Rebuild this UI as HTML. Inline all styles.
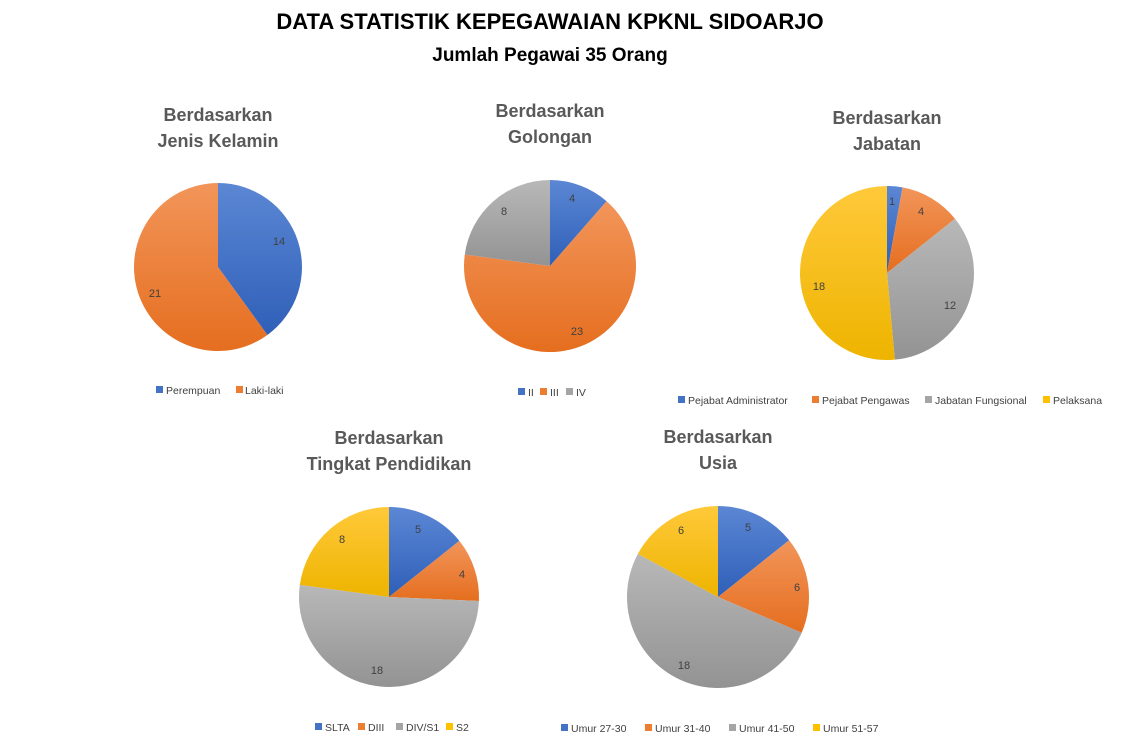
<!DOCTYPE html>
<html><head><meta charset="utf-8"><style>
html,body{margin:0;padding:0;background:#fff;width:1126px;height:737px;overflow:hidden}
svg{display:block}
.t{font-family:"Liberation Sans",Arial,sans-serif;font-weight:bold;fill:#000}
.ct{font-family:"Liberation Sans",sans-serif;font-weight:bold;fill:#595959;font-size:18px;text-anchor:middle}
.l{font-family:"Liberation Sans",sans-serif;font-size:11px;fill:#404040;text-anchor:middle}
.g{font-family:"Liberation Sans",sans-serif;font-size:10.5px;fill:#404040}
</style></head><body>
<svg id="s" width="1126" height="737" viewBox="0 0 1126 737" xmlns="http://www.w3.org/2000/svg">
<defs>
<linearGradient id="c0" x1="0" y1="0" x2="0" y2="1"><stop offset="0" stop-color="#5B87D4"/><stop offset="1" stop-color="#2F5FB8"/></linearGradient>
<linearGradient id="c1" x1="0" y1="0" x2="0" y2="1"><stop offset="0" stop-color="#F2955A"/><stop offset="1" stop-color="#E56E1F"/></linearGradient>
<linearGradient id="c2" x1="0" y1="0" x2="0" y2="1"><stop offset="0" stop-color="#B8B8B8"/><stop offset="1" stop-color="#939393"/></linearGradient>
<linearGradient id="c3" x1="0" y1="0" x2="0" y2="1"><stop offset="0" stop-color="#FFC93A"/><stop offset="1" stop-color="#EEB400"/></linearGradient>
</defs>
<text class="t" x="550" y="29" font-size="22" text-anchor="middle">DATA STATISTIK KEPEGAWAIAN KPKNL SIDOARJO</text>
<text class="t" x="550" y="61" font-size="19" text-anchor="middle">Jumlah Pegawai 35 Orang</text>
<g id="pies"></g>

<text class="ct" x="218" y="121">Berdasarkan</text><text class="ct" x="218" y="147">Jenis Kelamin</text>
<text class="ct" x="550" y="117">Berdasarkan</text><text class="ct" x="550" y="143">Golongan</text>
<text class="ct" x="887" y="124">Berdasarkan</text><text class="ct" x="887" y="150">Jabatan</text>
<text class="ct" x="389" y="444">Berdasarkan</text><text class="ct" x="389" y="470">Tingkat Pendidikan</text>
<text class="ct" x="718" y="443">Berdasarkan</text><text class="ct" x="718" y="469">Usia</text>

<text class="l" x="279" y="245">14</text><text class="l" x="155" y="297">21</text>
<text class="l" x="572" y="202">4</text><text class="l" x="577" y="335">23</text><text class="l" x="504" y="215">8</text>
<text class="l" x="892" y="205">1</text><text class="l" x="921" y="215">4</text><text class="l" x="950" y="309">12</text><text class="l" x="819" y="290">18</text>
<text class="l" x="418" y="533">5</text><text class="l" x="462" y="578">4</text><text class="l" x="377" y="674">18</text><text class="l" x="342" y="543">8</text>
<text class="l" x="748" y="531">5</text><text class="l" x="797" y="591">6</text><text class="l" x="684" y="669">18</text><text class="l" x="681" y="534">6</text>

<g>
<rect x="156" y="386" width="7" height="7" fill="#4472C4"/><text class="g" x="166" y="394">Perempuan</text>
<rect x="236" y="386" width="7" height="7" fill="#ED7D31"/><text class="g" x="245" y="394">Laki-laki</text>
<rect x="518" y="388" width="7" height="7" fill="#4472C4"/><text class="g" x="528" y="396">II</text>
<rect x="540" y="388" width="7" height="7" fill="#ED7D31"/><text class="g" x="550" y="396">III</text>
<rect x="566" y="388" width="7" height="7" fill="#A5A5A5"/><text class="g" x="576" y="396">IV</text>
<rect x="678" y="396" width="7" height="7" fill="#4472C4"/><text class="g" x="688" y="404">Pejabat Administrator</text>
<rect x="812" y="396" width="7" height="7" fill="#ED7D31"/><text class="g" x="822" y="404">Pejabat Pengawas</text>
<rect x="925" y="396" width="7" height="7" fill="#A5A5A5"/><text class="g" x="935" y="404">Jabatan Fungsional</text>
<rect x="1043" y="396" width="7" height="7" fill="#FFC000"/><text class="g" x="1053" y="404">Pelaksana</text>
<rect x="315" y="723" width="7" height="7" fill="#4472C4"/><text class="g" x="325" y="731">SLTA</text>
<rect x="358" y="723" width="7" height="7" fill="#ED7D31"/><text class="g" x="368" y="731">DIII</text>
<rect x="396" y="723" width="7" height="7" fill="#A5A5A5"/><text class="g" x="406" y="731">DIV/S1</text>
<rect x="446" y="723" width="7" height="7" fill="#FFC000"/><text class="g" x="456" y="731">S2</text>
<rect x="561" y="724" width="7" height="7" fill="#4472C4"/><text class="g" x="571" y="732">Umur 27-30</text>
<rect x="645" y="724" width="7" height="7" fill="#ED7D31"/><text class="g" x="655" y="732">Umur 31-40</text>
<rect x="729" y="724" width="7" height="7" fill="#A5A5A5"/><text class="g" x="739" y="732">Umur 41-50</text>
<rect x="813" y="724" width="7" height="7" fill="#FFC000"/><text class="g" x="823" y="732">Umur 51-57</text>
</g>
</svg>
<script>
var pies=[[218,267,84,[14,21]],[550,266,86,[4,23,8]],[887,273,87,[1,4,12,18]],[389,597,90,[5,4,18,8]],[718,597,91,[5,6,18,6]]];
var g=document.getElementById('pies'),h='';
pies.forEach(function(p){var cx=p[0],cy=p[1],r=p[2],v=p[3],tot=0;v.forEach(function(x){tot+=x});var a=0;
v.forEach(function(x,i){var a2=a+x/tot*2*Math.PI;
var x1=cx+r*Math.sin(a),y1=cy-r*Math.cos(a),x2=cx+r*Math.sin(a2),y2=cy-r*Math.cos(a2);
h+='<path d="M'+cx+' '+cy+'L'+x1.toFixed(2)+' '+y1.toFixed(2)+'A'+r+' '+r+' 0 '+((a2-a)>Math.PI?1:0)+' 1 '+x2.toFixed(2)+' '+y2.toFixed(2)+'Z" fill="url(#c'+i+')"/>';a=a2;});});
g.innerHTML=h;
</script>
</body></html>
